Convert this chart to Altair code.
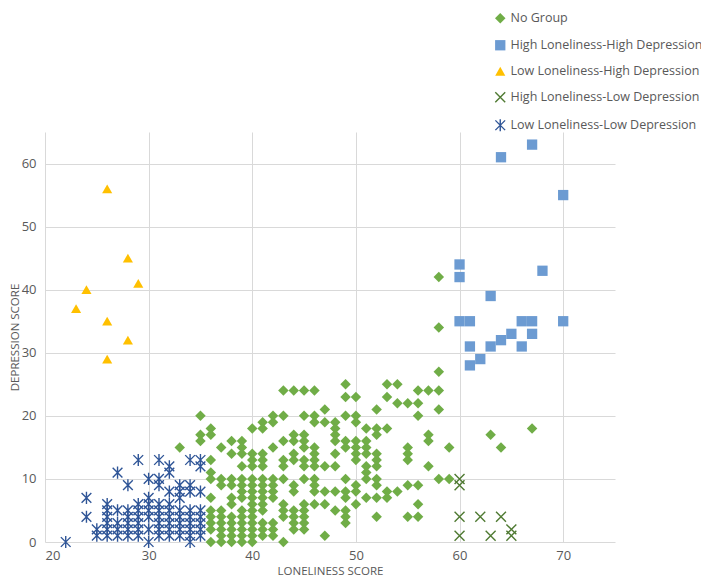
import altair as alt
import pandas as pd

groups = ["No Group", "High Loneliness-High Depression", "Low Loneliness-High Depression",
          "High Loneliness-Low Depression", "Low Loneliness-Low Depression"]

# No Group: loneliness score -> list of depression scores
no_group = {
    33: [15],
    35: [20, 17, 16],
    36: [18, 17, 13, 11, 10, 7, 5, 4, 3, 2, 0],
    37: [15, 10, 9, 5, 4, 3, 2, 1, 0],
    38: [16, 14, 10, 9, 7, 6, 4, 3, 2, 1, 0],
    39: [16, 15, 14, 12, 10, 9, 8, 7, 5, 4, 3, 2, 1, 0],
    40: [18, 14, 13, 12, 10, 9, 8, 7, 6, 5, 4, 3, 2, 1, 0],
    41: [19, 18, 14, 13, 12, 10, 9, 8, 7, 6, 5, 3, 2, 1],
    42: [20, 19, 15, 10, 9, 8, 7, 3, 2, 1],
    43: [24, 20, 16, 13, 12, 10, 6, 5, 4, 0],
    44: [24, 17, 16, 14, 13, 9, 8, 5, 4, 3, 2],
    45: [24, 20, 17, 16, 15, 13, 12, 10, 6, 5, 4, 3, 2],
    46: [24, 20, 19, 15, 14, 13, 12, 10, 9, 8, 6],
    47: [21, 19, 12, 8, 6, 1],
    48: [19, 18, 17, 16, 14, 12, 8, 5],
    49: [25, 23, 20, 16, 15, 10, 8, 7, 5, 4, 3],
    50: [23, 20, 19, 16, 15, 14, 13, 9, 8, 6],
    51: [18, 16, 15, 14, 12, 11, 10, 7],
    52: [21, 18, 17, 14, 13, 12, 10, 9, 7, 4],
    53: [25, 23, 18, 8, 7],
    54: [25, 22, 8],
    55: [22, 15, 14, 13, 9, 4],
    56: [24, 22, 20, 9, 6, 4],
    57: [24, 17, 16, 12],
    58: [42, 34, 27, 24, 21, 10],
    59: [15, 10],
    63: [17],
    64: [15],
    67: [18],
}

hh_x = [67, 64, 70, 60, 60, 68, 63, 60, 61, 66, 67, 70, 65, 67, 64, 61, 63, 66, 62, 61]
hh_y = [63, 61, 55, 44, 42, 43, 39, 35, 35, 35, 35, 35, 33, 33, 32, 31, 31, 31, 29, 28]

lh_x = [26, 28, 29, 24, 23, 26, 28, 26]
lh_y = [56, 45, 41, 40, 37, 35, 32, 29]

hl_x = [60, 60, 60, 62, 64, 65, 65, 60, 63]
hl_y = [10, 9, 4, 4, 4, 2, 1, 1, 1]

low_low = {
    22: [0],
    24: [7, 4],
    25: [2, 1],
    26: [6, 5, 4, 3, 2, 1],
    27: [11, 5, 3, 2, 1],
    28: [9, 5, 4, 3, 2, 1],
    29: [13, 6, 5, 4, 3, 2, 1],
    30: [10, 7, 6, 5, 4, 2, 0],
    31: [13, 10, 9, 6, 5, 4, 3, 2, 1],
    32: [12, 11, 8, 6, 5, 4, 3, 2, 1],
    33: [9, 8, 7, 5, 4, 3, 2, 1],
    34: [13, 9, 8, 5, 4, 3, 2, 1, 0],
    35: [13, 12, 8, 5, 4, 3, 2, 1],
}

rows = []
for x, ys in no_group.items():
    for y in ys:
        rows.append({"group": groups[0], "x": x, "y": y})
for x, y in zip(hh_x, hh_y):
    rows.append({"group": groups[1], "x": x, "y": y})
for x, y in zip(lh_x, lh_y):
    rows.append({"group": groups[2], "x": x, "y": y})
for x, y in zip(hl_x, hl_y):
    rows.append({"group": groups[3], "x": x, "y": y})
for x, ys in low_low.items():
    for y in ys:
        rows.append({"group": groups[4], "x": x, "y": y})
df = pd.DataFrame(rows)

FONT = "Open Sans"
GRAY = "#595959"

fills = ["#70AD47", "#6C9BD2", "#FFC000", "transparent", "transparent"]
strokes = ["transparent", "transparent", "transparent", "#4F7A32", "#2F5597"]
shapes = ["diamond", "square", "triangle-up",
          "M-1,-1L1,1M-1,1L1,-1",
          "M-1,-1L1,1M-1,1L1,-1M0,-1.25L0,1.25"]
sizes = [110, 95, 100, 64, 75]

legend = alt.Legend(title=None, orient="none", legendX=449, legendY=-120,
                    labelFont=FONT, labelFontSize=12.5, labelColor=GRAY,
                    rowPadding=10, padding=0, labelOffset=4,
                    symbolStrokeWidth=1.4, symbolOpacity=1, labelLimit=400)

chart = alt.Chart(df).mark_point(opacity=1, strokeWidth=1.4).encode(
    x=alt.X("x:Q", scale=alt.Scale(domain=[20, 75], nice=False, zero=False),
            axis=alt.Axis(values=[20, 30, 40, 50, 60, 70], title="LONELINESS SCORE",
                          titleY=29, titleBaseline="middle")),
    y=alt.Y("y:Q", scale=alt.Scale(domain=[0, 65], nice=False, zero=True),
            axis=alt.Axis(values=[0, 10, 20, 30, 40, 50, 60], title="DEPRESSION SCORE",
                          titleX=-30, titleY=205, titleAngle=270, titleAlign="center",
                          titleBaseline="middle", labelPadding=9)),
    fill=alt.Fill("group:N", scale=alt.Scale(domain=groups, range=fills), legend=legend),
    stroke=alt.Stroke("group:N", scale=alt.Scale(domain=groups, range=strokes), legend=legend),
    shape=alt.Shape("group:N", scale=alt.Scale(domain=groups, range=shapes), legend=legend),
    size=alt.Size("group:N", scale=alt.Scale(domain=groups, range=sizes), legend=legend),
    order=alt.Order("ord:Q"),
).transform_calculate(
    ord="indexof(['No Group','High Loneliness-High Depression','Low Loneliness-High Depression','High Loneliness-Low Depression','Low Loneliness-Low Depression'], datum.group)"
).properties(
    width=570, height=410,
    autosize=alt.AutoSizeParams(type="none"),
    padding={"left": 37, "top": 124, "right": 86, "bottom": 37},
).configure_view(
    stroke="transparent"
).configure_axis(
    grid=True, gridColor="#D9D9D9", gridWidth=1, domain=False, ticks=False,
    labelFont=FONT, labelFontSize=13, labelColor=GRAY,
    titleFont=FONT, titleFontSize=11.5, titleColor=GRAY, titleFontWeight="normal",
).configure_axisX(labelPadding=7)

chart.save("out.html", embed_options={"renderer": "svg", "actions": False})
